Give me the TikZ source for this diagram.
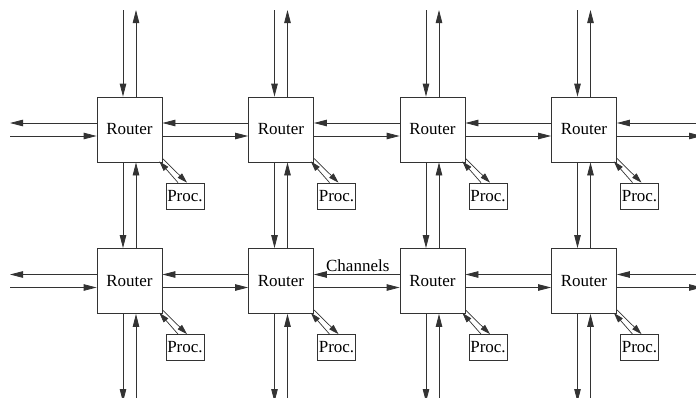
\documentclass[tikz,border=0pt]{standalone}
\usepackage{fontspec}
\setmainfont{Liberation Serif}
\usetikzlibrary{arrows.meta, positioning}

\tikzset{
  router/.style={draw=black!80, line width=0.8pt, minimum width=65pt, minimum height=65pt, inner sep=0pt},
  proc/.style={draw=black!80, line width=0.8pt, minimum width=38pt, minimum height=26pt, inner sep=0pt},
  chan/.style={draw=black!80, line width=0.8pt, -{Triangle[length=13pt,width=6.5pt]}},
  link/.style={draw=black!80, line width=0.7pt, -{Triangle[length=10pt,width=6pt]}}
}

\begin{document}
\begin{tikzpicture}[x=1pt, y=-1pt, font=\fontsize{17}{20}\selectfont]
		\useasboundingbox (0,0) rectangle (696,397);
		
		% Routers and processors
		\foreach \c/\x in {1/129.5, 2/281, 3/432.5, 4/584} {
			\foreach \r/\y in {1/129.5, 2/281} {
				\node[router] (r\r\c) at (\x,\y) {Router};
				\node[proc] (p\r\c) at (\x+55.5,\y+66.5) {Proc.};
				% Processor links
				\draw[link] ([xshift=-7pt]p\r\c.north) -- ([shift={(-3pt,1pt)}]r\r\c.south east);
				\draw[link] ([yshift=4pt]r\r\c.south east) -- ([xshift=2pt]p\r\c.north);
			}
		}
		
		% Free ends
		\foreach \c/\x in {1/129.5, 2/281, 3/432.5, 4/584} {
			\coordinate (t\c) at (\x,10);
			\coordinate (b\c) at (\x,402);
		}
		\foreach \r/\y in {1/129.5, 2/281} {
			\coordinate (w\r) at (10,\y);
			\coordinate (e\r) at (702,\y);
		}
		
		% Vertical channels
		\foreach \c in {1,2,3,4} {
			\draw[chan] ([xshift=-6.5pt]t\c) -- ([xshift=-6.5pt]r1\c.north);
			\draw[chan] ([xshift=6.5pt]r1\c.north) -- ([xshift=6.5pt]t\c);
			\draw[chan] ([xshift=-6.5pt]r1\c.south) -- ([xshift=-6.5pt]r2\c.north);
			\draw[chan] ([xshift=6.5pt]r2\c.north) -- ([xshift=6.5pt]r1\c.south);
			\draw[chan] ([xshift=-6.5pt]r2\c.south) -- ([xshift=-6.5pt]b\c);
			\draw[chan] ([xshift=6.5pt]b\c) -- ([xshift=6.5pt]r2\c.south);
		}
		
		% Horizontal channels
		\foreach \r in {1,2} {
			\draw[chan] ([yshift=6.5pt]r\r1.west) -- ([yshift=6.5pt]w\r);
			\draw[chan] ([yshift=-6.5pt]w\r) -- ([yshift=-6.5pt]r\r1.west);
			\foreach \a/\b in {1/2, 2/3, 3/4} {
				\draw[chan] ([yshift=6.5pt]r\r\b.west) -- ([yshift=6.5pt]r\r\a.east);
				\draw[chan] ([yshift=-6.5pt]r\r\a.east) -- ([yshift=-6.5pt]r\r\b.west);
			}
			\draw[chan] ([yshift=6.5pt]e\r) -- ([yshift=6.5pt]r\r4.east);
			\draw[chan] ([yshift=-6.5pt]r\r4.east) -- ([yshift=-6.5pt]e\r);
		}
		
		\node[anchor=south east, inner sep=0pt] (lbl) at ([shift={(-10pt,9pt)}]r23.west) {Channels};
	\end{tikzpicture}
\end{document}
